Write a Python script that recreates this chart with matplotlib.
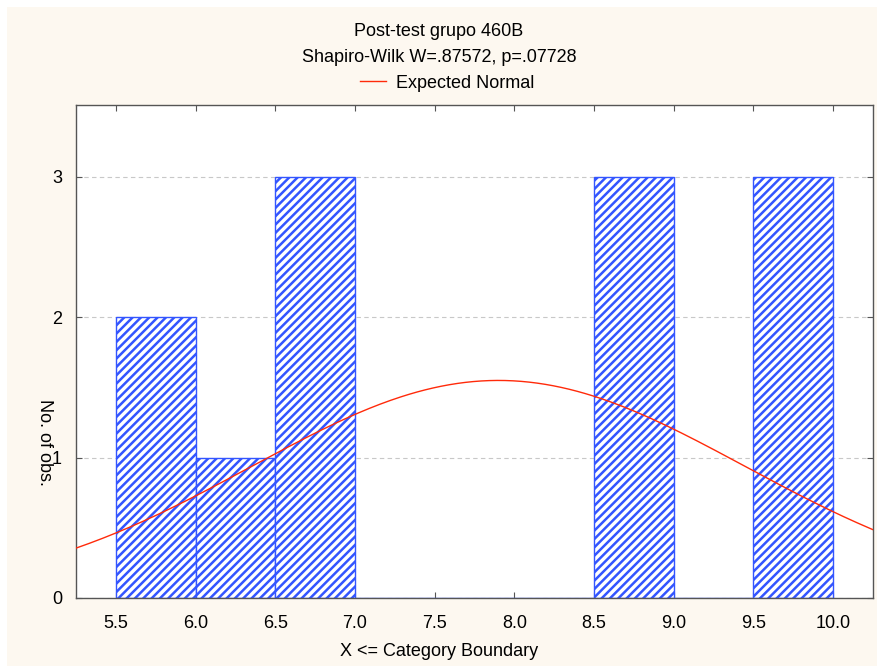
import numpy as np
import matplotlib.pyplot as plt
from matplotlib.patches import Rectangle

plt.rcParams['font.family'] = ['Liberation Sans', 'DejaVu Sans']
plt.rcParams['hatch.linewidth'] = 1.8
plt.rcParams['hatch.color'] = '#1028ff'

# histogram data
bin_left = [5.5, 6.0, 6.5, 7.0, 7.5, 8.0, 8.5, 9.0, 9.5]
counts = [2, 1, 3, 0, 0, 0, 3, 0, 3]
bin_width = 0.5
x_ticks = [5.5, 6.0, 6.5, 7.0, 7.5, 8.0, 8.5, 9.0, 9.5, 10.0]
y_ticks = [0, 1, 2, 3]
# expected normal parameters
mean_x = 7.9
sd_x = 1.544

fig = plt.figure(figsize=(8.78, 6.66), dpi=100, facecolor='white')
fig.patches.append(Rectangle((7/878, 0), 1, 1 - 7/666, transform=fig.transFigure,
                             facecolor='#fdf8f0', edgecolor='none', zorder=-10))
ax = fig.add_axes([76/878, 68/666, 797/878, 493/666])
ax.set_facecolor('white')

ax.bar(bin_left, counts, width=bin_width, align='edge', facecolor='white',
       edgecolor='#3355ff', hatch='////', linewidth=1.0, zorder=2)

n = sum(counts)
xs = np.linspace(5.25, 10.25, 300)
ys = n * bin_width / (sd_x * np.sqrt(2*np.pi)) * np.exp(-0.5*((xs - mean_x)/sd_x)**2)
ax.plot(xs, ys, color='#ff2a0a', linewidth=1.0, zorder=3, label='Expected Normal')

ax.set_xlim(5.25, 10.25)
ax.set_ylim(0, 3.513)
ax.set_xticks(x_ticks)
ax.set_xticklabels(['%.1f' % v for v in x_ticks])
ax.set_yticks(y_ticks)
ax.grid(axis='y', color='#c8c8c8', linestyle=(0, (4, 3)), linewidth=0.8, zorder=0)
ax.tick_params(direction='in', top=True, right=True, length=4, labelsize=13,
               color='#555555', pad=12)
ax.tick_params(axis='y', pad=10)
for s in ax.spines.values():
    s.set_color('#555555')
    s.set_linewidth(1.0)

fig.text(0.5, 1 - 651/666, 'X <= Category Boundary', ha='center', va='center', fontsize=13)
fig.text(44/878, 1 - 442/666, 'No. of obs.', ha='center', va='center', fontsize=13, rotation=270)

fig.text(0.5, 1 - 32/666, 'Post-test grupo 460B', ha='center', va='center', fontsize=13)
fig.text(0.5, 1 - 57/666, 'Shapiro-Wilk W=.87572, p=.07728', ha='center', va='center', fontsize=13)
fig.legend(loc='center', bbox_to_anchor=(447.5/878, 1 - 83/666), frameon=False, fontsize=13,
           handlelength=1.4, handletextpad=0.6, borderpad=0)

fig.savefig('out.png', dpi=100, facecolor=fig.get_facecolor())
